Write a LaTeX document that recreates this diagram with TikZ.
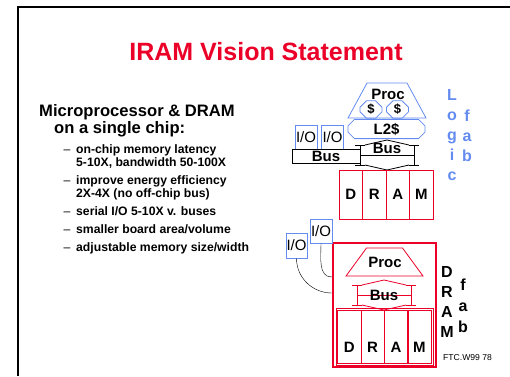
\documentclass[tikz,border=0pt]{standalone}
\usepackage{fontspec}
\setmainfont{Liberation Sans}
\usetikzlibrary{shapes.geometric,shapes.misc,positioning,calc}
\definecolor{iramred}{RGB}{235,0,40}
\definecolor{logicblue}{RGB}{100,140,240}
\tikzset{
    slidetitle/.style={font=\bfseries\fontsize{25}{25}\selectfont, text=iramred},
    headtext/.style={font=\bfseries\fontsize{16.6}{17}\selectfont, anchor=base west, inner sep=0pt},
    itemtext/.style={font=\bfseries\fontsize{12.2}{13}\selectfont, anchor=base west, inner sep=0pt},
    dashtext/.style={font=\fontsize{12.2}{13}\selectfont, anchor=base west, inner sep=0pt},
    unittext/.style={font=\bfseries\fontsize{15}{15}\selectfont, inner sep=0pt},
    vletter/.style={font=\bfseries\fontsize{16}{16}\selectfont, anchor=base, inner sep=0pt},
    cachebox/.style={chamfered rectangle, chamfered rectangle xsep=3pt, draw=logicblue, thick, inner sep=0pt, font=\bfseries\fontsize{13}{13}\selectfont},
    iobox/.style={draw=logicblue, thick, minimum width=22pt, minimum height=24pt, inner sep=0pt, font=\fontsize{15}{15}\selectfont},
    busbox/.style={draw, thick, minimum width=68pt, minimum height=14pt, inner sep=0pt, font=\bfseries\fontsize{15}{15}\selectfont},
    dramcell/.style={draw=iramred, minimum width=23.5pt, inner sep=0pt, font=\bfseries\fontsize{15}{15}\selectfont},
    chipbox/.style={draw=iramred, line width=2.4pt, minimum width=103pt, minimum height=124pt, inner sep=0pt},
    pics/busarrow/.style={code={
        \draw (-32,-10) -- (-22,-10) (-27,-10) -- (-27,10) (-32,10) -- (-22,10);
        \draw (32,-10) -- (22,-10) (27,-10) -- (27,10) (32,10) -- (22,10);
        \draw (-22,-10) -- (0,-15) -- (22,-10);
        \draw (-22,10) -- (0,15) -- (22,10);
        \draw (-27,0) -- (27,0);
    }}
}

\begin{document}
\begin{tikzpicture}[x=1pt, y=-1pt]
    \useasboundingbox (0,0) rectangle (510,376);
    % slide frame
    \draw[line width=1.6pt] (18,376) -- (18,7) -- (510,7);
    \node[slidetitle] (title) at (266,52) {IRAM Vision Statement};

    % left text
    \node[headtext] (head1) at (39,116) {Microprocessor \& DRAM};
    \node[headtext] (head2) at (54,133) {on a single chip:};
    \foreach \y/\txt [count=\i] in {153/{on-chip memory latency}, 184/{improve energy efficiency},
            215/{serial I/O 5-10X v. buses}, 233/{smaller board area/volume}, 251/{adjustable memory size/width}} {
        \node[dashtext] (dash\i) at (63.5,\y) {--};
        \node[itemtext] (item\i) at (76,\y) {\txt};
    }
    \node[itemtext] (more1) at (76,166) {5-10X, bandwidth 50-100X};
    \node[itemtext] (more2) at (76,197) {2X-4X (no off-chip bus)};

    % logic fab chip
    \draw[logicblue, thick, shift={(387,100.5)}] (-39,17.5) -- (-20,-17.5) -- (20,-17.5) -- (39,17.5) -- cycle;
    \node[unittext] (procU) at (388,94) {Proc};
    \node[cachebox, minimum width=22pt, minimum height=15pt] (cache1) at (371,109.5) {\$};
    \node[cachebox, minimum width=22pt, minimum height=15pt] (cache2) at (397.5,109.5) {\$};
    \node[cachebox, minimum width=77pt, minimum height=16pt, font=\bfseries\fontsize{15}{15}\selectfont] (l2) at (386.5,129) {L2\$};
    \node[iobox] (io1) at (306,137) {I/O};
    \node[iobox] (io2) at (332.5,137) {I/O};
    \node[busbox] (busbox) at (326,156) {Bus};
    \pic[thick] at (387,155) {busarrow};
    \node[unittext] (busU) at (387,148) {Bus};
    \foreach \ch [count=\i] in {D,R,A,M}
        \node[dramcell, minimum height=49pt] (du\i) at (327.25+23.5*\i,194.5) {\ch};
    \foreach \ch [count=\i] in {L,o,g,i,c}
        \node[vletter, text=logicblue] (lg\i) at (452,80+20*\i) {\ch};
    \foreach \ch [count=\i] in {f,a,b}
        \node[vletter, text=logicblue] (lf\i) at (467,101+20*\i) {\ch};

    % IRAM chip
    \node[chipbox] (chip) at (384.5,305) {};
    \draw[iramred, thick, shift={(384.5,262)}] (-38.5,14) -- (-18,-14) -- (18,-14) -- (38.5,14) -- cycle;
    \node[unittext] (procL) at (385,262) {Proc};
    \pic[iramred, thick] at (384,295) {busarrow};
    \node[unittext] (busL) at (384,295) {Bus};
    \foreach \ch [count=\i] in {D,R,A,M} {
        \node[dramcell, minimum height=53pt] (dl\i) at (325.8+23.4*\i,336.5) {};
        \node[unittext] (dltext\i) at ([yshift=16pt]dl\i.south) {\ch};
    }
    \draw[iramred] ([shift={(-1.5pt,-1.5pt)}]dl1.south west) rectangle ([shift={(1.5pt,1.5pt)}]dl4.north east);
    \node[iobox, minimum width=21pt, minimum height=25pt] (io3) at (296.5,245.5) {I/O};
    \node[iobox] (io4) at (321,231) {I/O};
    \coordinate (tap3) at (chip.west |- 0,293);
    \coordinate (tap4) at (chip.west |- 0,277);
    \draw (io3.south) to[out=-90, in=180] (tap3);
    \draw (io4.south) to[out=-90, in=180] (tap4);
    \foreach \ch [count=\i] in {D,R,A,M}
        \node[vletter] (dd\i) at (447,257+20*\i) {\ch};
    \foreach \ch [count=\i] in {f,a,b}
        \node[vletter] (df\i) at (463,269+21*\i) {\ch};
    \node[anchor=base west, inner sep=0pt, font=\fontsize{8.6}{9}\selectfont] (ftc) at (443,360) {FTC.W99 78};
\end{tikzpicture}
\end{document}
